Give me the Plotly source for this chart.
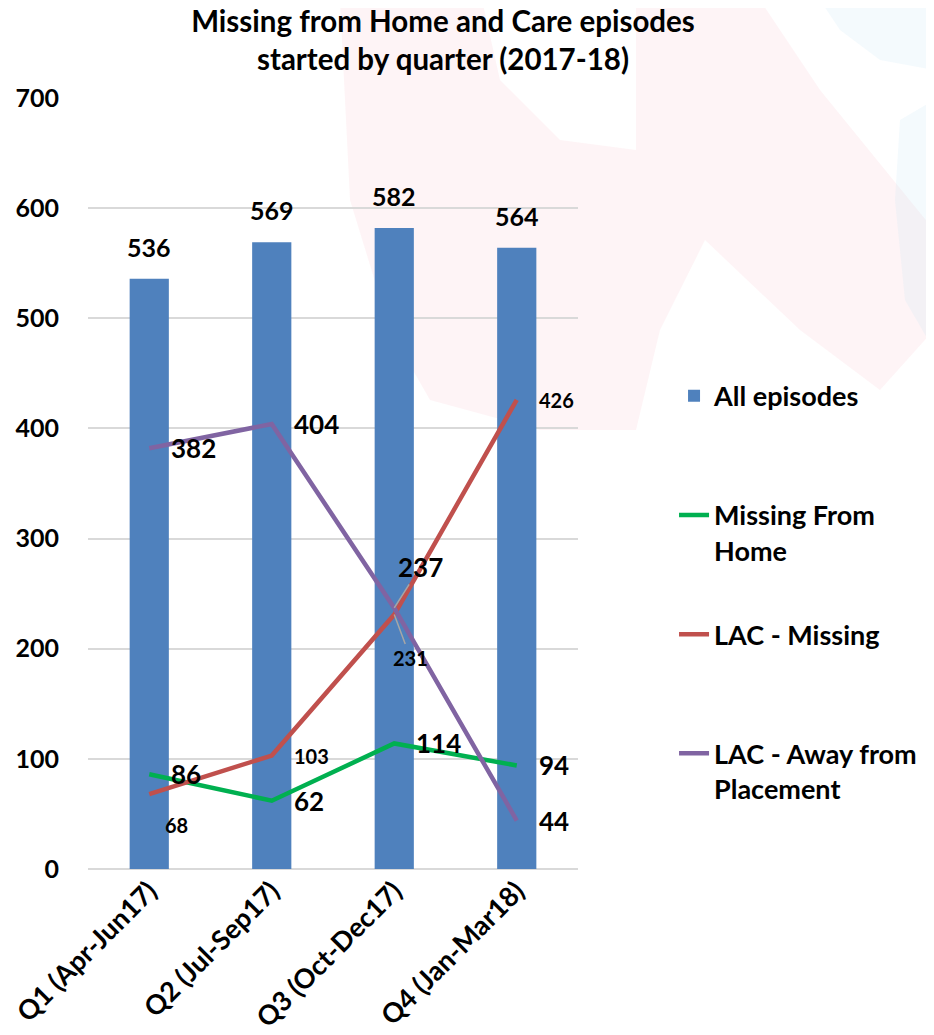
import plotly.graph_objects as go

categories = ["Q1 (Apr-Jun17)", "Q2 (Jul-Sep17)", "Q3 (Oct-Dec17)", "Q4 (Jan-Mar18)"]
all_episodes = [536, 569, 582, 564]
missing_from_home = [86, 62, 114, 94]
lac_missing = [68, 103, 231, 426]
lac_away = [382, 404, 237, 44]

FONT = "Lato"
BLUE = "#4F81BD"
GREEN = "#00B050"
RED = "#C0504D"
PURPLE = "#8064A2"

W, H = 926, 1027
ML, MR, MT, MB = 80, 356, 90, 166
PW, PH = W - ML - MR, H - MT - MB


def px(xw, yw):
    """window pixel -> paper coords (page has an 8px body margin)"""
    return ((xw - 8 - ML) / PW, (H - MB - (yw - 8)) / PH)


fig = go.Figure()

fig.add_trace(go.Bar(
    x=categories, y=all_episodes, name="All episodes<br>&nbsp;",
    marker=dict(color=BLUE, line=dict(width=0)),
    legendgroup="a",
))
fig.add_trace(go.Scatter(
    x=categories, y=missing_from_home, name="Missing From<br>Home",
    mode="lines", line=dict(color=GREEN, width=4.5), legendgroup="b",
))
fig.add_trace(go.Scatter(
    x=categories, y=lac_missing, name="LAC - Missing<br>&nbsp;",
    mode="lines", line=dict(color=RED, width=4.5), legendgroup="c",
))
fig.add_trace(go.Scatter(
    x=categories, y=lac_away, name="LAC - Away from<br>Placement",
    mode="lines", line=dict(color=PURPLE, width=4.5), legendgroup="d",
))

BIG = dict(family=FONT, size=26, color="black", weight="bold")
SMALL = dict(family=FONT, size=20, color="black", weight="bold")

# bar value labels
for c, v in zip(categories, all_episodes):
    fig.add_annotation(x=c, y=v, text=str(v), showarrow=False, yanchor="bottom",
                       yshift=15, font=dict(family=FONT, size=25, color="black", weight="bold"))

# line value labels
series_labels = [
    (missing_from_home, BIG),
    (lac_missing, SMALL),
    (lac_away, BIG),
]
special = {(1, 0), (1, 2), (2, 2)}
for si, (vals, fnt) in enumerate(series_labels):
    for i, (c, v) in enumerate(zip(categories, vals)):
        if (si, i) in special:
            continue
        fig.add_annotation(x=c, y=v, text=str(v), showarrow=False, xanchor="left",
                           xshift=20, font=fnt)

fig.add_annotation(x=categories[0], y=lac_missing[0], text=str(lac_missing[0]), showarrow=False,
                   xshift=27, yshift=-31, font=SMALL)
fig.add_annotation(x=categories[2], y=lac_missing[2], text=str(lac_missing[2]),
                   showarrow=True, arrowhead=0, arrowcolor="#A6A6A6", arrowwidth=1.5, standoff=0,
                   ax=16, ay=43, font=SMALL)
fig.add_annotation(x=categories[2], y=lac_away[2], text=str(lac_away[2]),
                   showarrow=True, arrowhead=0, arrowcolor="#A6A6A6", arrowwidth=1.5, standoff=0,
                   ax=26, ay=-41, font=BIG)

# faint watermark in the background
PINK = "rgba(248,200,212,0.2)"
BLUEW = "rgba(200,230,245,0.2)"


def path(points):
    pts = [px(*p) for p in points]
    return "M " + " L ".join(f"{a:.4f},{b:.4f}" for a, b in pts) + " Z"


shapes = [
    dict(type="path", xref="paper", yref="paper", layer="below", line=dict(width=0), fillcolor=PINK,
         path=path([(340, 0), (482, 0), (500, 80), (560, 140), (636, 150), (636, 0), (760, 0),
                    (820, 90), (934, 230), (934, 330), (880, 390), (800, 330), (705, 240),
                    (660, 330), (636, 430), (540, 430), (430, 400), (390, 330), (350, 200)])),
    dict(type="path", xref="paper", yref="paper", layer="below", line=dict(width=0), fillcolor=BLUEW,
         path=path([(820, 0), (934, 0), (934, 70), (880, 60), (840, 30)])),
    dict(type="path", xref="paper", yref="paper", layer="below", line=dict(width=0), fillcolor=BLUEW,
         path=path([(900, 120), (934, 100), (934, 350), (905, 300), (895, 200)])),
]

fig.update_layout(
    width=W, height=H,
    margin=dict(l=ML, r=MR, t=MT, b=MB, autoexpand=False),
    paper_bgcolor="white", plot_bgcolor="rgba(0,0,0,0)",
    bargap=0.68,
    title=dict(text="<b>Missing from Home and Care episodes<br>started by quarter (2017-18)</b>",
               x=435 / W, xanchor="center", y=1 - 24 / H, yanchor="top",
               font=dict(family=FONT, size=29.5, color="black")),
    legend=dict(x=1.196, xanchor="left", y=0.645, yanchor="top",
                font=dict(family=FONT, size=27, color="black", weight="bold"),
                tracegroupgap=46, valign="top", bgcolor="rgba(0,0,0,0)"),
    showlegend=True,
    shapes=shapes,
    font=dict(family=FONT),
)

fig.update_yaxes(range=[0, 700], dtick=100, showgrid=True, gridcolor="#D9D9D9", gridwidth=2,
                 zeroline=True, zerolinecolor="#D9D9D9", zerolinewidth=2, automargin=False,
                 showline=False, ticks="", ticklabelstandoff=28,
                 tickfont=dict(family=FONT, size=25, color="black", weight="bold"))
fig.update_xaxes(tickangle=-45, showgrid=False, showline=False, ticks="", automargin=False,
                 tickfont=dict(family=FONT, size=27, color="black", weight="bold"))

fig.write_html("out.html")
